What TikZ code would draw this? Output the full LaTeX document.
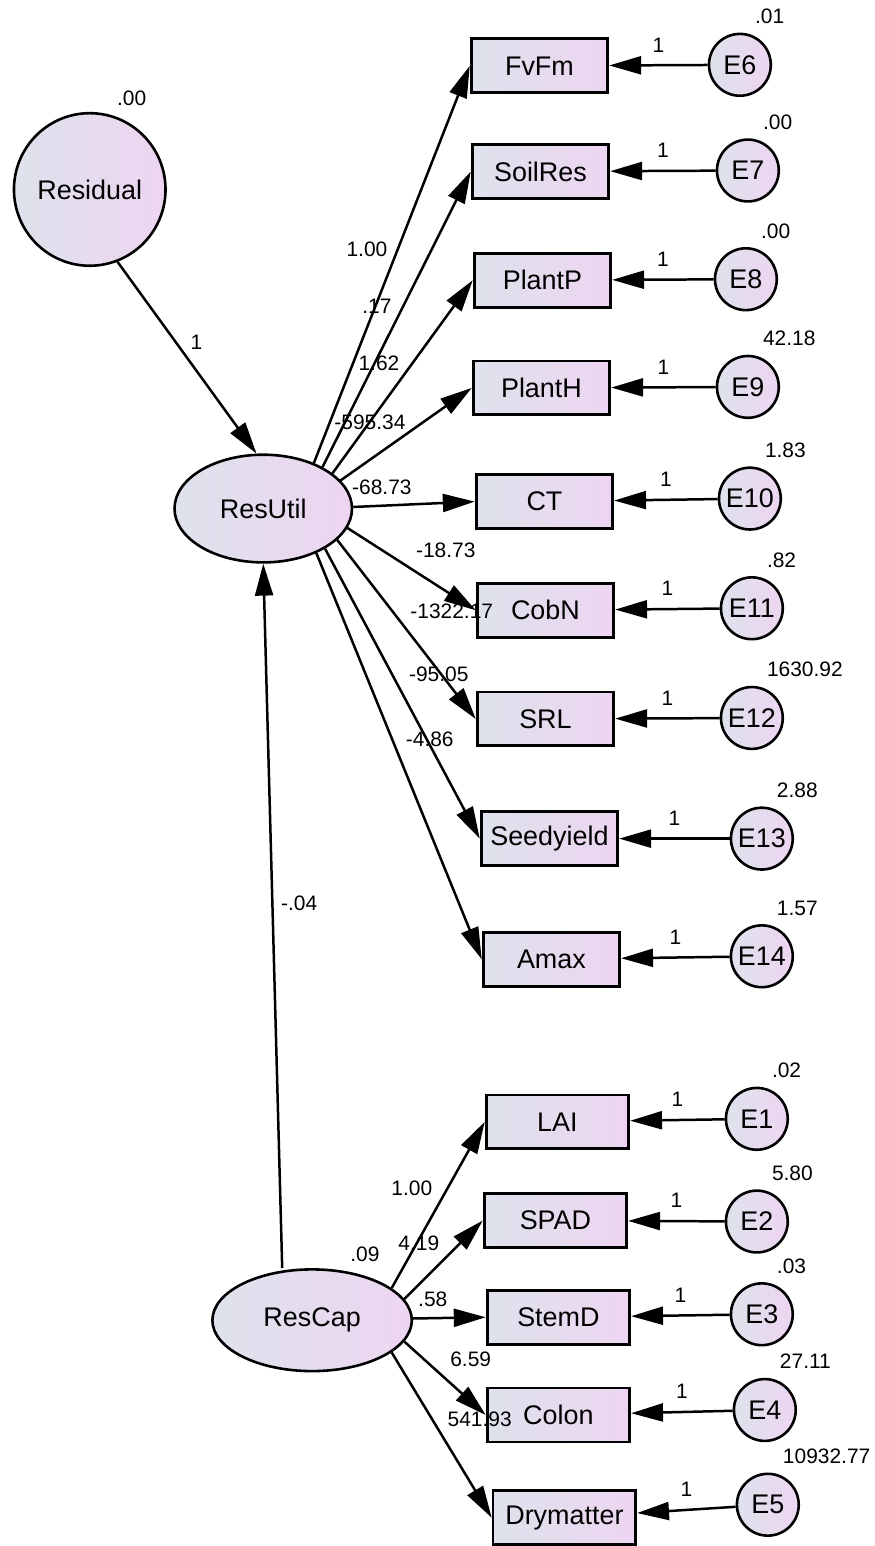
\documentclass[tikz,border=0pt]{standalone}
\usepackage{fontspec}
\setmainfont{Liberation Sans}
\usetikzlibrary{arrows.meta,positioning,shapes.geometric}
\definecolor{varL}{HTML}{DEE2EC}
\definecolor{varR}{HTML}{EDD5F1}

\begin{document}
\begin{tikzpicture}[x=1pt, y=-1pt,
  obs/.style={draw, line width=2.8pt, left color=varL, right color=varR,
              minimum width=137pt, minimum height=54pt, inner sep=0pt,
              font=\fontsize{27}{32}\selectfont},
  err/.style={circle, draw, line width=2.6pt, left color=varL, right color=varR,
              minimum size=62pt, inner sep=0pt, font=\fontsize{27}{32}\selectfont},
  lat/.style={ellipse, draw, line width=2.6pt, left color=varL, right color=varR,
              inner sep=0pt, font=\fontsize{27}{32}\selectfont},
  reg/.style={-{Triangle[length=32pt,width=18pt]}, line width=2.5pt},
  num/.style={font=\fontsize{21}{25}\selectfont, inner sep=0pt},
  evar/.style={num, anchor=base west, xshift=15pt, yshift=9pt},
  fix/.style={num, above=12pt}
]
  \fill[white] (0,0) rectangle (877,1546);

  % latent variables
  \node[lat, minimum width=152pt, minimum height=153pt] (Residual) at (90,190) {Residual};
  \node[lat, minimum width=178pt, minimum height=108pt] (ResUtil) at (264,510) {ResUtil};
  \node[lat, minimum width=200pt, minimum height=102pt] (ResCap) at (313,1324) {ResCap};
  \node[num] (vRes) at (132,99) {.00};
  \node[num] (vCap) at (366,1258) {.09};

  % observed variables
  \node[obs] (FvFm) at (541,66) {FvFm};
  \node[obs] (SoilRes) at (542,172) {SoilRes};
  \node[obs] (PlantP) at (544,281) {PlantP};
  \node[obs] (PlantH) at (543,389) {PlantH};
  \node[obs] (CT) at (546,503) {CT};
  \node[obs] (CobN) at (547,612) {CobN};
  \node[obs] (SRL) at (547,721) {SRL};
  \node[obs] (Seedyield) at (551,841) {Seedyield};
  \node[obs] (Amax) at (553,962) {Amax};
  \node[obs, minimum width=143pt] (LAI) at (559,1125) {LAI};
  \node[obs, minimum width=143pt] (SPAD) at (557,1224) {SPAD};
  \node[obs, minimum width=143pt] (StemD) at (560,1321) {StemD};
  \node[obs, minimum width=143pt] (Colon) at (560,1419) {Colon};
  \node[obs, minimum width=143pt] (Drymatter) at (566,1522) {Drymatter};

  % error terms
  \node[err] (E6) at (742,65) {E6};
  \node[err] (E7) at (750,171) {E7};
  \node[err] (E8) at (748,280) {E8};
  \node[err] (E9) at (750,388) {E9};
  \node[err] (E10) at (752,500) {E10};
  \node[err] (E11) at (754,610) {E11};
  \node[err] (E12) at (754,720) {E12};
  \node[err] (E13) at (764,841) {E13};
  \node[err] (E14) at (764,959) {E14};
  \node[err] (E1) at (759,1122) {E1};
  \node[err] (E2) at (759,1225) {E2};
  \node[err] (E3) at (764,1318) {E3};
  \node[err] (E4) at (767,1414) {E4};
  \node[err] (E5) at (770,1509) {E5};

  % error variances
  \node[evar] (v6) at (E6.north) {.01};
  \node[evar] (v7) at (E7.north) {.00};
  \node[evar] (v8) at (E8.north) {.00};
  \node[evar] (v9) at (E9.north) {42.18};
  \node[evar] (v10) at (E10.north) {1.83};
  \node[evar] (v11) at (E11.north) {.82};
  \node[evar] (v12) at (E12.north) {1630.92};
  \node[evar] (v13) at (E13.north) {2.88};
  \node[evar] (v14) at (E14.north) {1.57};
  \node[evar] (v1) at (E1.north) {.02};
  \node[evar] (v2) at (E2.north) {5.80};
  \node[evar] (v3) at (E3.north) {.03};
  \node[evar] (v4) at (E4.north) {27.11};
  \node[evar] (v5) at (E5.north) {10932.77};

  % structural paths
  \draw[reg] (Residual.-69) -- (ResUtil.97);
  \node[num] (wRes) at (197,343) {1};
  \draw[reg] ([xshift=-30pt]ResCap.north) -- (ResUtil.south);
  \node[num] (wCap) at (300,906) {-.04};

  % loadings of ResUtil
  \draw[reg] (ResUtil.42) -- (FvFm.west);
  \draw[reg] (ResUtil.35) -- (SoilRes.west);
  \draw[reg] (ResUtil.27) -- (PlantP.west);
  \draw[reg] (ResUtil.20) -- (PlantH.west);
  \draw[reg] (ResUtil.1) -- (CT.west);
  \draw[reg] (ResUtil.-13) -- (CobN.west);
  \draw[reg] (ResUtil.-23) -- (SRL.west);
  \draw[reg] (ResUtil.-33) -- (Seedyield.west);
  \draw[reg] (ResUtil.-40) -- (Amax.west);
  \node[num] (u1) at (368,250) {1.00};
  \node[num] (u2) at (378,307) {.17};
  \node[num] (u3) at (380,364) {1.62};
  \node[num] (u4) at (371,423) {-595.34};
  \node[num] (u5) at (383,489) {-68.73};
  \node[num] (u6) at (447,552) {-18.73};
  \node[num] (u7) at (453,613) {-1322.17};
  \node[num] (u8) at (440,676) {-95.05};
  \node[num] (u9) at (431,741) {-4.86};

  % loadings of ResCap
  \draw[reg] (ResCap.22) -- (LAI.west);
  \draw[reg] (ResCap.13) -- (SPAD.west);
  \draw[reg] (ResCap.1) -- (StemD.west);
  \draw[reg] (ResCap.-13) -- (Colon.west);
  \draw[reg] (ResCap.-22) -- (Drymatter.west);
  \node[num] (c1) at (413,1192) {1.00};
  \node[num] (c2) at (420,1247) {4.19};
  \node[num] (c3) at (434,1303) {.58};
  \node[num] (c4) at (472,1363) {6.59};
  \node[num] (c5) at (481,1423) {541.93};

  % error paths
  \draw[reg] (E6) -- node[fix] {1} (FvFm);
  \draw[reg] (E7) -- node[fix] {1} (SoilRes);
  \draw[reg] (E8) -- node[fix] {1} (PlantP);
  \draw[reg] (E9) -- node[fix] {1} (PlantH);
  \draw[reg] (E10) -- node[fix] {1} (CT);
  \draw[reg] (E11) -- node[fix] {1} (CobN);
  \draw[reg] (E12) -- node[fix] {1} (SRL);
  \draw[reg] (E13) -- node[fix] {1} (Seedyield);
  \draw[reg] (E14) -- node[fix] {1} (Amax);
  \draw[reg] (E1) -- node[fix] {1} (LAI);
  \draw[reg] (E2) -- node[fix] {1} (SPAD);
  \draw[reg] (E3) -- node[fix] {1} (StemD);
  \draw[reg] (E4) -- node[fix] {1} (Colon);
  \draw[reg] (E5) -- node[fix] {1} (Drymatter);
\end{tikzpicture}
\end{document}
